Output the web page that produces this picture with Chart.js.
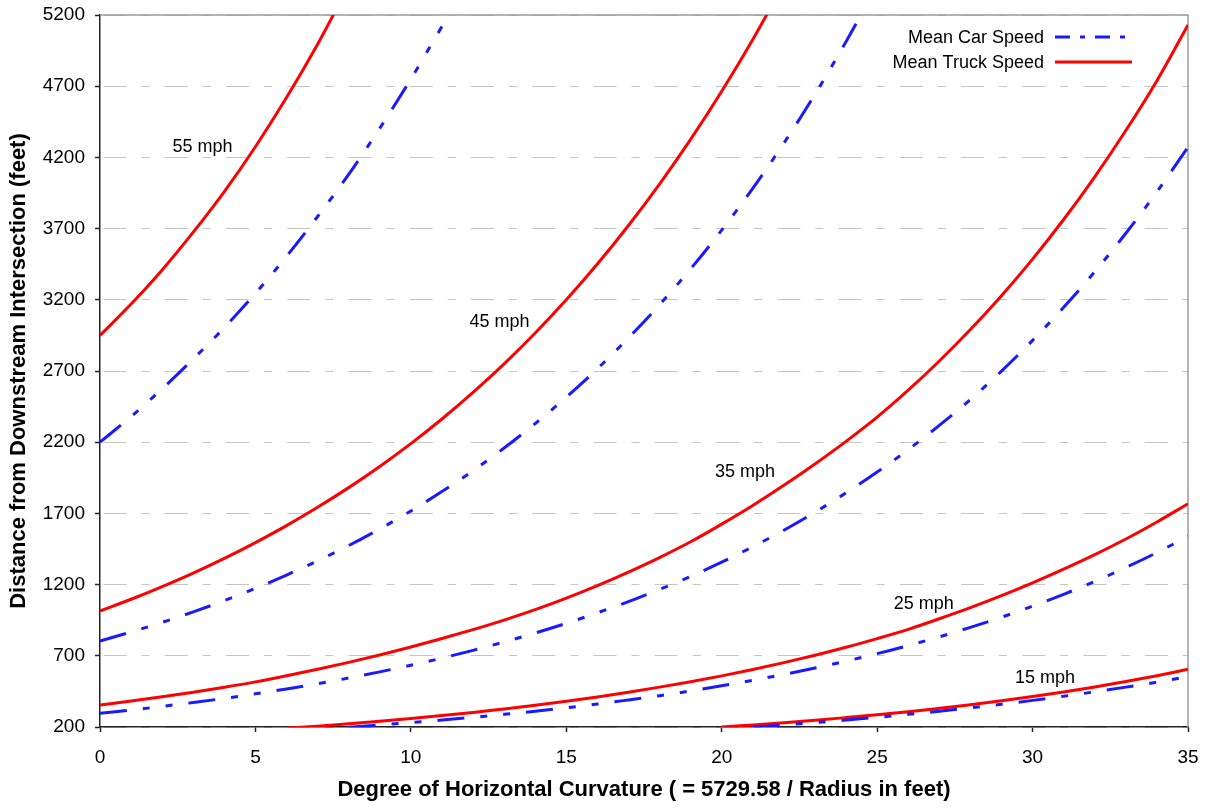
<!DOCTYPE html>
<html>
<head>
<meta charset="utf-8">
<script src="https://cdn.jsdelivr.net/npm/chart.js@4.4.1/dist/chart.umd.min.js"></script>
<style>
  html, body { margin: 0; padding: 0; background: #ffffff; }
  #wrap { width: 1208px; height: 808px; }
</style>
</head>
<body>
<div id="wrap"><canvas id="c" width="1208" height="808"></canvas></div>
<script>
const FONT = '"Liberation Sans", Arial, Helvetica, sans-serif';

// ---- data ----
const degrees = [0,1,2,3,4,5,6,7,8,9,10,11,12,13,14,15,16,17,18,19,20,21,22,23,24,25,26,27,28,29,30,31,32,33,34,35];

const truck55 = [2950,3170,3410,3675,3960,4275,4620,4995,5405,null,null,null,null,null,null,null,null,null,null,null,null,null,null,null,null,null,null,null,null,null,null,null,null,null,null,null];
const car55   = [2200,2380,2575,2785,3005,3245,3505,3785,4080,4405,4750,5120,null,null,null,null,null,null,null,null,null,null,null,null,null,null,null,null,null,null,null,null,null,null,null,null];
const truck45 = [1015,1097,1186,1281,1384,1495,1614,1743,1881,2030,2190,2363,2550,2750,2967,3200,3451,3722,4013,4326,4664,5028,5420,null,null,null,null,null,null,null,null,null,null,null,null,null];
const car45   = [804,867,935,1008,1088,1174,1267,1367,1474,1591,1717,1853,2000,2159,2331,2516,2716,2932,3165,3417,3689,3983,4300,4643,5013,5413,null,null,null,null,null,null,null,null,null,null];
const truck35 = [354,382,412,444,479,517,560,605,654,706,762,821,884,951,1024,1105,1193,1288,1390,1501,1625,1756,1897,2047,2206,2376,2565,2770,2991,3229,3486,3764,4064,4389,4739,5130];
const car35   = [296,319,345,372,401,433,467,504,544,587,634,684,738,797,860,928,1002,1080,1166,1258,1358,1466,1582,1708,1844,1990,2148,2318,2500,2699,2915,3147,3397,3667,3958,4272];
const truck25 = [null,null,null,null,null,null,193,206,222,240,259,280,302,327,353,381,411,444,480,518,559,604,652,704,760,821,886,960,1038,1122,1212,1308,1410,1520,1640,1768];
const car25   = [null,null,null,null,null,null,null,null,199,214,231,249,268,289,311,335,361,390,420,453,489,528,569,614,663,715,772,833,900,971,1049,1132,1222,1320,1425,1539];
const truck15 = [null,null,null,null,null,null,null,null,null,null,null,null,null,null,null,null,null,null,null,null,200,214,230,247,266,286,307,331,356,384,414,446,481,519,560,605];
const car15   = [null,null,null,null,null,null,null,null,null,null,null,null,null,null,null,null,null,null,null,null,null,198,214,231,249,268,289,311,335,360,387,416,447,480,515,553];

const xTickValues = [0,5,10,15,20,25,30,35];
const yTickValues = [200,700,1200,1700,2200,2700,3200,3700,4200,4700,5200];

const speedLabels = ['55 mph','45 mph','35 mph','25 mph','15 mph'];
const speedLabelX = [3.3, 12.85, 20.75, 26.5, 30.4];
const speedLabelY = [4270, 3045, 1990, 1065, 545];

const legendLabels = ['Mean Car Speed', 'Mean Truck Speed'];

const xTitle = 'Degree of Horizontal Curvature ( = 5729.58 / Radius in feet)';
const yTitle = 'Distance from Downstream Intersection (feet)';

// ---- styles ----
const CAR_COLOR = '#1a1aff';
const TRUCK_COLOR = '#ff0000';
const CAR_DASH = [27, 16, 7, 16, 7, 16];

function toPoints(values) {
  const pts = [];
  values.forEach((v, i) => { if (v !== null) pts.push({x: degrees[i], y: v}); });
  return pts;
}

function series(values, isCar) {
  return {
    label: isCar ? legendLabels[0] : legendLabels[1],
    data: toPoints(values),
    borderColor: isCar ? CAR_COLOR : TRUCK_COLOR,
    backgroundColor: isCar ? CAR_COLOR : TRUCK_COLOR,
    borderWidth: 3,
    borderDash: isCar ? CAR_DASH : [],
    pointRadius: 0,
    pointHoverRadius: 0,
    fill: false,
    cubicInterpolationMode: 'monotone',
    clip: 0
  };
}

const datasets = [
  series(car15, true), series(truck15, false),
  series(car25, true), series(truck25, false),
  series(car35, true), series(truck35, false),
  series(car45, true), series(truck45, false),
  series(car55, true), series(truck55, false)
];

// frame on top and right of plot area
const framePlugin = {
  id: 'frame',
  beforeDatasetsDraw(chart) {
    const {ctx, chartArea: a} = chart;
    ctx.save();
    ctx.strokeStyle = '#9a9a9a';
    ctx.lineWidth = 1.5;
    ctx.beginPath();
    ctx.moveTo(a.left, a.top);
    ctx.lineTo(a.right, a.top);
    ctx.lineTo(a.right, a.bottom);
    ctx.stroke();
    ctx.restore();
  }
};

// speed labels placed at data coordinates
const speedLabelPlugin = {
  id: 'speedLabels',
  afterDatasetsDraw(chart) {
    const {ctx, scales} = chart;
    ctx.save();
    ctx.font = '18px ' + FONT;
    ctx.fillStyle = '#000';
    ctx.textAlign = 'center';
    ctx.textBaseline = 'middle';
    speedLabels.forEach((t, i) => {
      ctx.fillText(t, scales.x.getPixelForValue(speedLabelX[i]), scales.y.getPixelForValue(speedLabelY[i]));
    });
    ctx.restore();
  }
};

// legend: text right-aligned, sample line on the right
const legendPlugin = {
  id: 'refLegend',
  afterDatasetsDraw(chart) {
    const {ctx, chartArea: a} = chart;
    const items = [
      {text: legendLabels[0], color: CAR_COLOR, dash: [15, 10, 5, 10], len: 70, dy: 22},
      {text: legendLabels[1], color: TRUCK_COLOR, dash: [], len: 77, dy: 47}
    ];
    ctx.save();
    ctx.font = '18px ' + FONT;
    ctx.textAlign = 'right';
    ctx.textBaseline = 'middle';
    items.forEach(it => {
      const y = a.top + it.dy;
      ctx.fillStyle = '#000';
      ctx.fillText(it.text, a.right - 144, y + 1);
      ctx.strokeStyle = it.color;
      ctx.lineWidth = 3;
      ctx.lineCap = 'butt';
      ctx.setLineDash(it.dash);
      ctx.beginPath();
      ctx.moveTo(a.right - 133, y);
      ctx.lineTo(a.right - 133 + it.len, y);
      ctx.stroke();
    });
    ctx.restore();
  }
};

Chart.defaults.font.family = FONT;
Chart.defaults.color = '#000';

new Chart(document.getElementById('c'), {
  type: 'line',
  data: { datasets },
  options: {
    responsive: false,
    animation: false,
    devicePixelRatio: 1,
    layout: { padding: { top: 15, right: 20, left: 0, bottom: 0 } },
    plugins: {
      legend: { display: false },
      tooltip: { enabled: false }
    },
    scales: {
      x: {
        type: 'linear',
        min: 0,
        max: 35,
        afterBuildTicks: s => { s.ticks = xTickValues.map(v => ({value: v})); },
        afterFit: s => { s.height = 81; s.paddingLeft = 0; s.paddingRight = 0; s.paddingTop = 0; s.paddingBottom = 0; },
        ticks: { font: { size: 19 }, color: '#000', padding: 14, maxRotation: 0, callback: v => String(v) },
        grid: { drawOnChartArea: false, drawTicks: true, tickLength: 5, tickColor: '#222', tickWidth: 1.5 },
        border: { display: true, color: '#222', width: 1.5 },
        title: { display: true, text: xTitle, font: { size: 22, weight: 'bold' }, color: '#000', padding: { top: 0, bottom: 5 } }
      },
      y: {
        type: 'linear',
        min: 200,
        max: 5200,
        afterBuildTicks: s => { s.ticks = yTickValues.map(v => ({value: v})); },
        afterFit: s => { s.width = 100; s.paddingTop = 0; s.paddingBottom = 0; s.paddingLeft = 0; s.paddingRight = 0; },
        ticks: { font: { size: 19 }, color: '#000', padding: 10, callback: v => String(v) },
        grid: {
          color: '#c4c4c4', lineWidth: 1,
          drawTicks: true, tickLength: 5, tickColor: '#222', tickWidth: 1.5, tickBorderDash: []
        },
        border: { display: true, color: '#222', width: 1.5, dash: [23, 15, 8, 15.25], dashOffset: 58.25 },
        title: { display: true, text: yTitle, font: { size: 22, weight: 'bold' }, color: '#000', padding: { top: 6, bottom: 0 } }
      }
    }
  },
  plugins: [framePlugin, speedLabelPlugin, legendPlugin]
});
</script>
</body>
</html>
